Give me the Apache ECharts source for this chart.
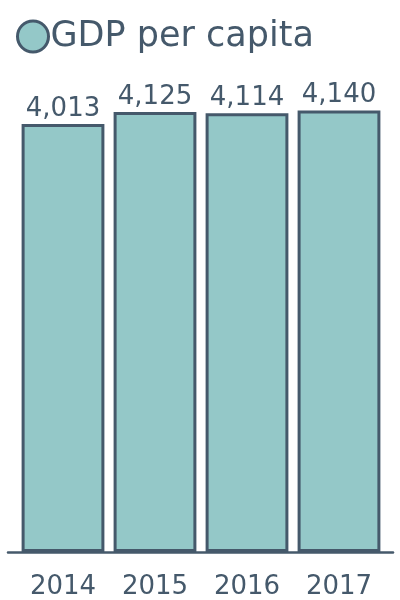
<!DOCTYPE html>
<html>
<head>
<meta charset="utf-8">
<script src="https://cdn.jsdelivr.net/npm/echarts@6/dist/echarts.min.js"></script>
<style>
  html, body { margin: 0; padding: 0; background: #fff; }
  #chart { width: 400px; height: 600px; }
</style>
</head>
<body>
<div id="chart"></div>
<script>
// data
var years = ['2014', '2015', '2016', '2017']
var gdpPerCapita = [4013, 4125, 4114, 4140]
var seriesName = 'GDP per capita'

var ink = '#45596b'
var fill = '#94c8c8'
var font = 'DejaVu Sans'

var myChart = echarts.init(document.getElementById('chart'))
var option = {
  animation: false,
  textStyle: { fontFamily: font },
  legend: {
    left: 11,
    top: 14,
    icon: 'circle',
    itemWidth: 31,
    itemHeight: 31,
    itemGap: 0,
    itemStyle: { borderWidth: 3 },
    textStyle: { color: ink, fontSize: 35, fontFamily: font, padding: [0, 0, 0, -3] },
    data: [seriesName]
  },
  grid: [
    // wider grid only for the base line
    { left: 8, right: 7, top: 72, bottom: 48 },
    { left: 17, right: 15, top: 72, bottom: 48 }
  ],
  xAxis: [
    {
      gridIndex: 0,
      type: 'category',
      data: years,
      axisLine: { show: true, lineStyle: { color: ink, width: 2.5 } },
      axisTick: { show: false },
      axisLabel: { show: false }
    },
    {
      gridIndex: 1,
      type: 'category',
      data: years,
      axisLine: { show: false },
      axisTick: { show: false },
      axisLabel: { color: ink, fontSize: 26, fontFamily: font, margin: 22 }
    }
  ],
  yAxis: [
    { gridIndex: 0, type: 'value', min: 0, max: 4500, show: false },
    { gridIndex: 1, type: 'value', min: 0, max: 4500, show: false }
  ],
  series: [
    {
      name: seriesName,
      type: 'bar',
      xAxisIndex: 1,
      yAxisIndex: 1,
      barCategoryGap: '10%',
      data: gdpPerCapita,
      itemStyle: { color: fill, borderColor: ink, borderWidth: 3 },
      label: {
        show: true,
        position: 'top',
        distance: 2,
        color: ink,
        fontSize: 26,
        fontFamily: font,
        formatter: function(p) {
          return p.value.toLocaleString('en-US')
        }
      }
    }
  ]
}
myChart.setOption(option)
</script>
</body>
</html>
